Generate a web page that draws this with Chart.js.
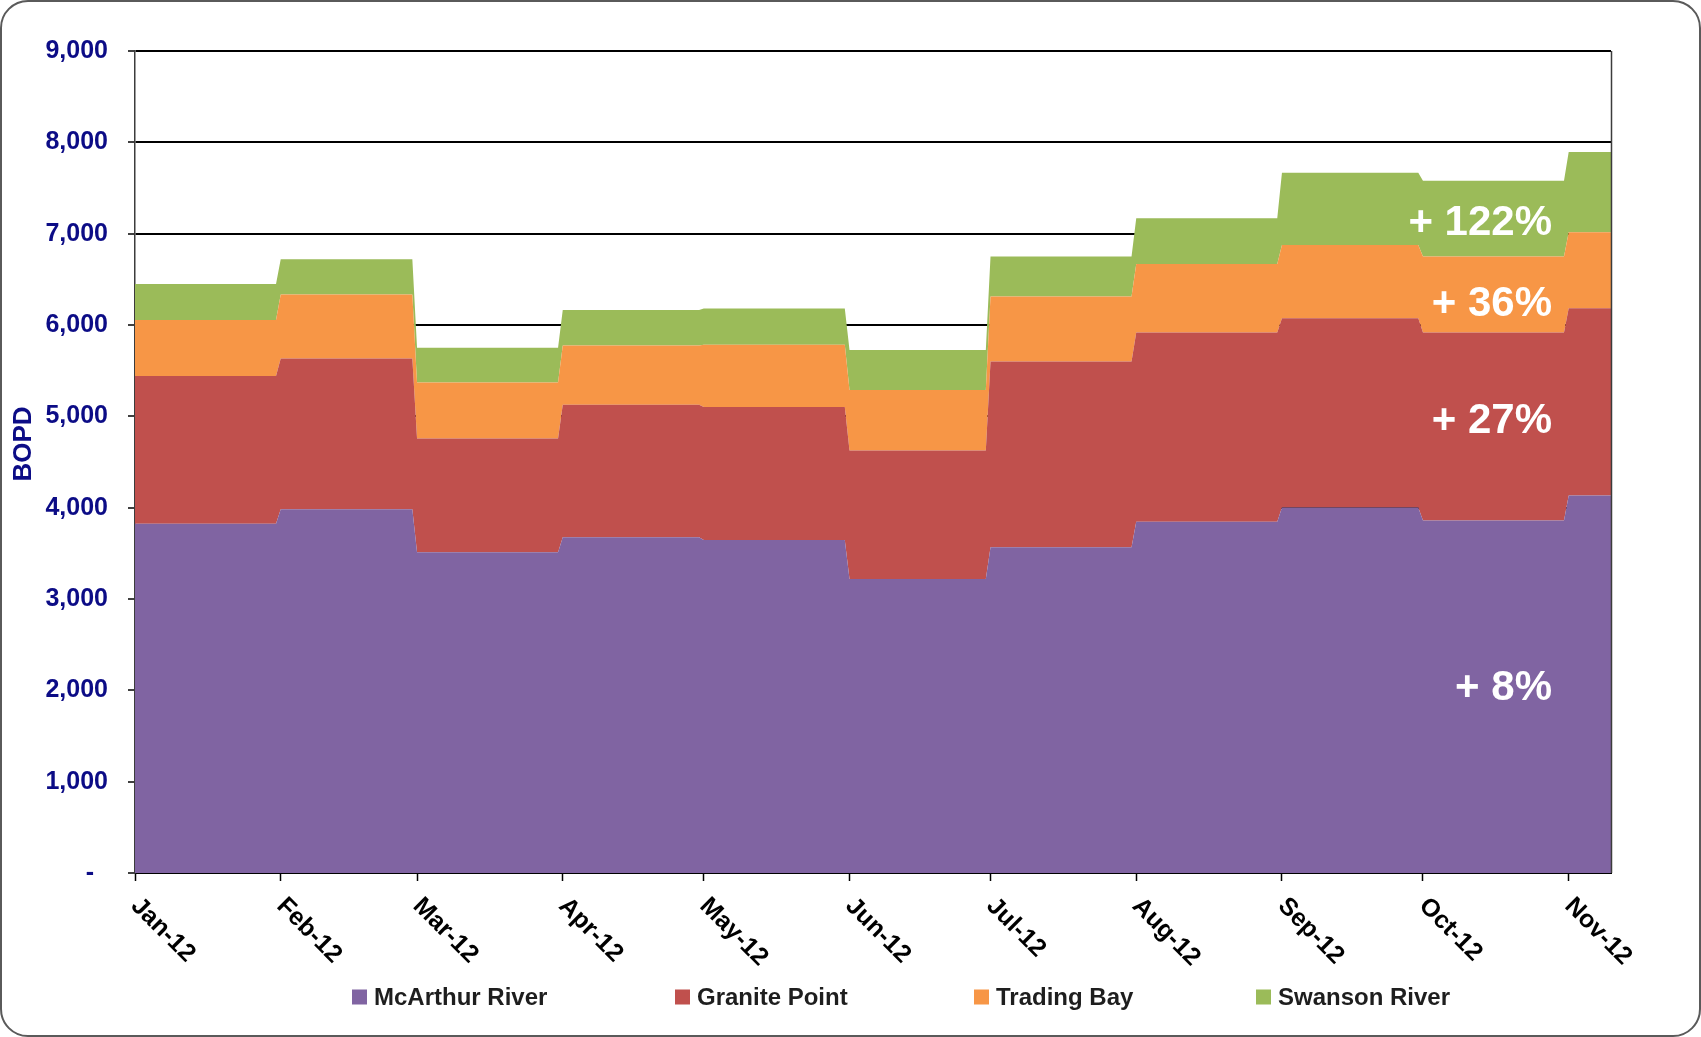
<!DOCTYPE html>
<html>
<head>
<meta charset="utf-8">
<title>Cook Inlet production by field, 2012</title>
<script src="https://cdn.jsdelivr.net/npm/chart.js@4.4.1/dist/chart.umd.min.js"></script>
<style>
  html, body { margin: 0; padding: 0; background: #fff; }
  #wrap { position: relative; width: 1701px; height: 1037px; overflow: hidden; background: #fff; }
  #frame { position: absolute; left: 0; top: 0; width: 1701px; height: 1037px; box-sizing: border-box;
           border: 2px solid #5a5a5a; border-radius: 28px; pointer-events: none; }
  canvas { position: absolute; left: 0; top: 0; }
</style>
</head>
<body>
<div id="wrap">
  <canvas id="chart" width="1701" height="1037"></canvas>
  <div id="frame"></div>
</div>
<script>
// Monthly production, barrels of oil per day, by field
const monthLabels = ['Jan-12', 'Feb-12', 'Mar-12', 'Apr-12', 'May-12', 'Jun-12',
                     'Jul-12', 'Aug-12', 'Sep-12', 'Oct-12', 'Nov-12'];
const monthStarts = ['2012-01-01', '2012-02-01', '2012-03-01', '2012-04-01', '2012-05-01', '2012-06-01',
                     '2012-07-01', '2012-08-01', '2012-09-01', '2012-10-01', '2012-11-01'];
const lastDate = '2012-11-10';

const seriesNames = ['McArthur River', 'Granite Point', 'Trading Bay', 'Swanson River'];
const mcArthurRiver = [3825, 3982, 3511, 3675, 3647, 3219, 3566, 3845, 4001, 3859, 4133];
const granitePoint  = [1616, 1650, 1246, 1452, 1454, 1407, 2033, 2074, 2072, 2060, 2050];
const tradingBay    = [615, 701, 614, 649, 684, 661, 712, 750, 804, 831, 833];
const swansonRiver  = [394, 386, 380, 388, 397, 439, 439, 501, 790, 829, 877];

// Growth since January, one per field (same order as seriesNames)
const growthLabels = ['+ 8%', '+ 27%', '+ 36%', '+ 122%'];

const yTickValues = [0, 1000, 2000, 3000, 4000, 5000, 6000, 7000, 8000, 9000];

const seriesColors = ['#8064A2', '#C0504D', '#F79646', '#9BBB59'];
const NAVY = '#0c0c86';
const FONT = '"Liberation Sans", Arial, sans-serif';

// Day offsets from 1 Jan 2012
const DAY = 86400000;
const origin = Date.parse(monthStarts[0] + 'T00:00:00Z');
const dayOf = s => Math.round((Date.parse(s + 'T00:00:00Z') - origin) / DAY);
const startDays = monthStarts.map(dayOf);
const endDay = dayOf(lastDate);

// Each month holds its value from its first to its last day
function monthlySteps(values) {
  const pts = [];
  values.forEach((v, i) => {
    const a = startDays[i];
    const b = i < startDays.length - 1 ? startDays[i + 1] - 1 : endDay;
    pts.push({ x: a, y: v }, { x: b, y: v });
  });
  return pts;
}

const seriesValues = [mcArthurRiver, granitePoint, tradingBay, swansonRiver];
const datasets = seriesValues.map((vals, i) => ({
  label: seriesNames[i],
  data: monthlySteps(vals),
  backgroundColor: seriesColors[i],
  borderColor: seriesColors[i],
  borderWidth: 0,
  pointRadius: 0,
  pointHoverRadius: 0,
  fill: i === 0 ? 'origin' : '-1',
  tension: 0
}));

// Rotated month labels, axis title, right border, legend and growth notes
const decorations = {
  id: 'decorations',
  afterDraw(chart) {
    const { ctx, chartArea: ca, scales } = chart;
    const xs = scales.x, ys = scales.y;

    // right edge of the plot
    ctx.save();
    ctx.strokeStyle = '#3c3c3c';
    ctx.lineWidth = 1.5;
    ctx.beginPath();
    ctx.moveTo(ca.right + 0.5, ca.top);
    ctx.lineTo(ca.right + 0.5, ca.bottom);
    ctx.stroke();
    ctx.restore();

    // month labels, rotated 45 degrees clockwise
    ctx.save();
    ctx.fillStyle = '#000';
    ctx.font = 'bold 25px ' + FONT;
    ctx.textAlign = 'left';
    ctx.textBaseline = 'alphabetic';
    monthLabels.forEach((lab, i) => {
      const px = xs.getPixelForValue(startDays[i]);
      ctx.save();
      ctx.translate(px - 5, ca.bottom + 34);
      ctx.rotate(Math.PI / 4);
      ctx.fillText(lab, 0, 0);
      ctx.restore();
    });
    ctx.restore();

    // y axis title
    ctx.save();
    ctx.fillStyle = NAVY;
    ctx.font = 'bold 26px ' + FONT;
    ctx.textAlign = 'center';
    ctx.textBaseline = 'middle';
    ctx.translate(24, 444);
    ctx.rotate(-Math.PI / 2);
    ctx.fillText('BOPD', 0, 0);
    ctx.restore();

    // legend
    ctx.save();
    ctx.font = 'bold 24px ' + FONT;
    ctx.textBaseline = 'middle';
    ctx.textAlign = 'left';
    const legendLeft = [352, 675, 974, 1256];
    const ly = 997;
    seriesNames.forEach((name, i) => {
      const lx = legendLeft[i];
      ctx.fillStyle = seriesColors[i];
      ctx.fillRect(lx, ly - 7.5, 15, 15);
      ctx.fillStyle = '#1e1e1e';
      ctx.fillText(name, lx + 22, ly + 1);
    });
    ctx.restore();

    // growth notes inside each band
    const noteLevels = [2061, 4988, 6271, 7151];
    ctx.save();
    ctx.fillStyle = '#fff';
    ctx.font = 'bold 42px ' + FONT;
    ctx.textAlign = 'right';
    ctx.textBaseline = 'middle';
    growthLabels.forEach((t, i) => {
      ctx.fillText(t, ca.right - 59, ys.getPixelForValue(noteLevels[i]) + 4);
    });
    ctx.restore();
  }
};

new Chart(document.getElementById('chart'), {
  type: 'line',
  data: { datasets },
  plugins: [decorations],
  options: {
    responsive: false,
    animation: false,
    devicePixelRatio: 1,
    events: [],
    layout: { padding: { left: 0, top: 51, right: 90, bottom: 0 } },
    plugins: {
      legend: { display: false },
      tooltip: { enabled: false },
      filler: { propagate: false }
    },
    elements: { line: { borderWidth: 0 } },
    scales: {
      x: {
        type: 'linear',
        min: 0,
        max: endDay,
        afterBuildTicks(scale) { scale.ticks = startDays.map(d => ({ value: d })); },
        afterFit(scale) { scale.height = 164; },
        ticks: { display: false },
        grid: { drawOnChartArea: false, drawTicks: true, tickLength: 8, tickColor: '#000', tickWidth: 1.5 },
        border: { display: true, color: '#000', width: 2 }
      },
      y: {
        stacked: true,
        min: 0,
        max: 9000,
        afterBuildTicks(scale) { scale.ticks = yTickValues.map(v => ({ value: v })); },
        afterFit(scale) { scale.width = 135; },
        ticks: {
          color: NAVY,
          font: { family: FONT, size: 25, weight: 'bold' },
          padding: 20,
          callback: v => v === 0 ? '-  ' : v.toLocaleString('en-US')
        },
        grid: { color: '#000', lineWidth: 2, drawTicks: true, tickLength: 7, tickColor: '#000', tickWidth: 1.5 },
        border: { display: true, color: '#3c3c3c', width: 1.5 }
      }
    }
  }
});
</script>
</body>
</html>
